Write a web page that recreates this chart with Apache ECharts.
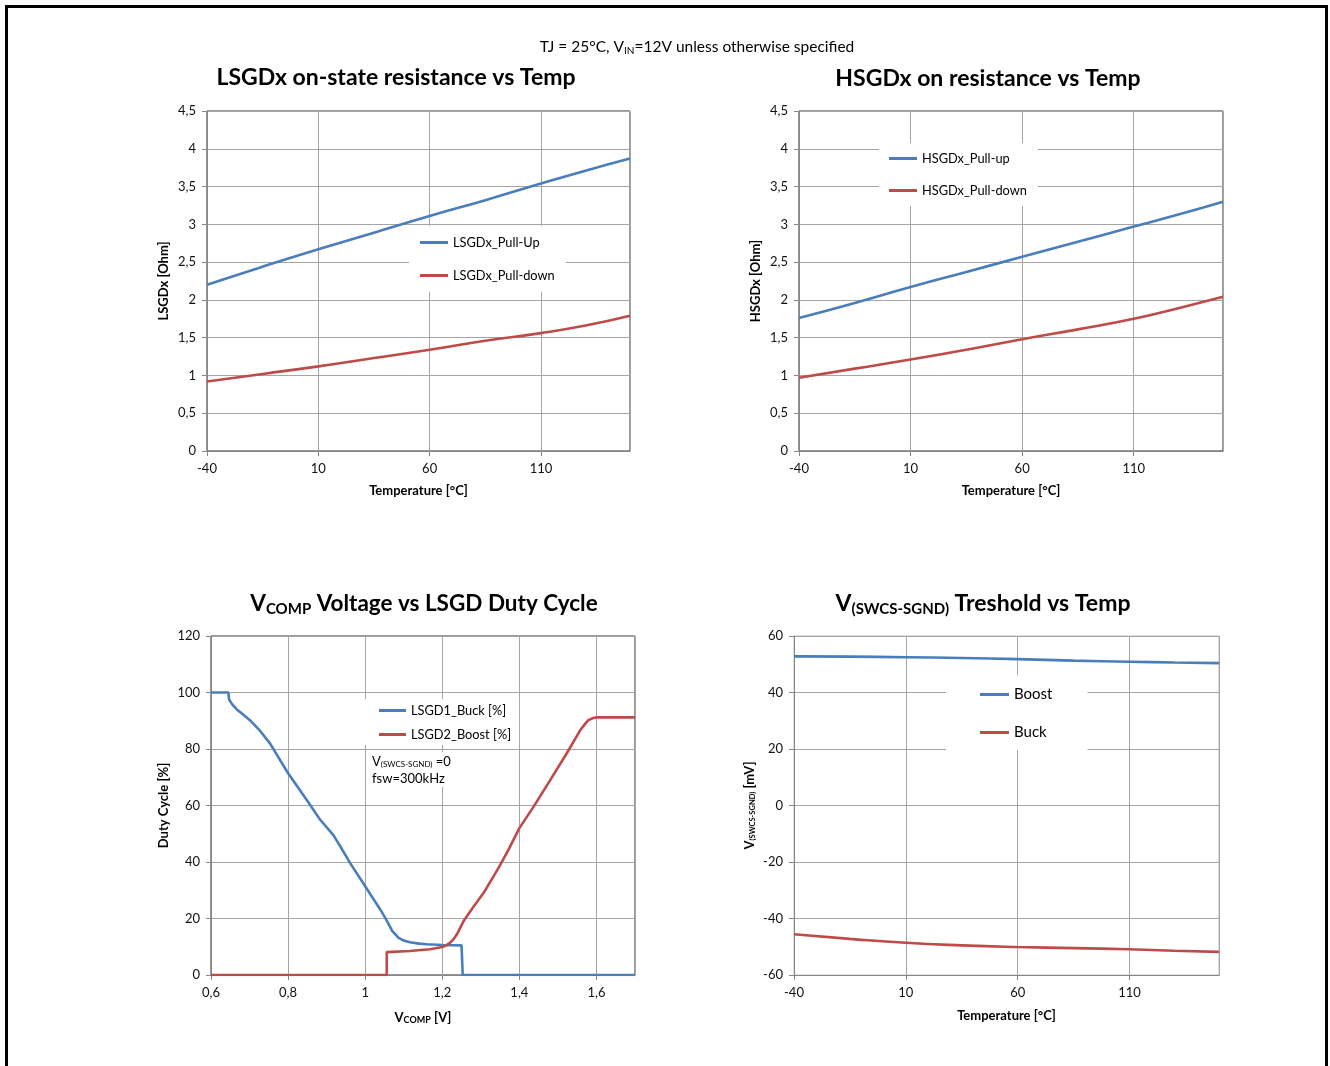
<!DOCTYPE html>
<html><head><meta charset="utf-8">
<script src="https://cdn.jsdelivr.net/npm/echarts@6/dist/echarts.min.js"></script>
<style>
html,body{margin:0;padding:0;background:#fff;overflow:hidden;}
#frame{position:absolute;left:5px;top:5px;width:1317px;height:1100px;border:3px solid #000;border-bottom:none;}
#main{position:absolute;left:0;top:0;width:1330px;height:1066px;}
</style></head><body>
<div id="frame"></div><div id="main"></div>
<script>
// ---- data ----
const tempX = [-40, -15, 10, 35, 60, 85, 110, 130, 150];
const lsgdPullUp = [2.2, 2.44, 2.67, 2.89, 3.11, 3.32, 3.54, 3.71, 3.87];
const lsgdPullDown = [0.92, 1.02, 1.12, 1.23, 1.34, 1.46, 1.56, 1.66, 1.79];
const hsgdPullUp = [1.76, 1.96, 2.17, 2.37, 2.57, 2.77, 2.97, 3.13, 3.30];
const hsgdPullDown = [0.97, 1.09, 1.21, 1.34, 1.48, 1.61, 1.75, 1.89, 2.04];

const buckV = [0.6, 0.645, 0.647, 0.655, 0.667, 0.685, 0.701, 0.725, 0.753, 0.8, 0.848, 0.883, 0.9, 0.917, 0.94, 0.961, 1.0, 1.039, 1.055, 1.07, 1.086, 1.1, 1.116, 1.14, 1.16, 1.2, 1.25, 1.253, 1.253, 1.7];
const buckD = [100, 100, 97.5, 95.8, 94, 92, 90.2, 86.8, 82, 71.4, 62, 55, 52.3, 49.6, 44.5, 39.6, 31.4, 23.2, 19.5, 15.6, 13.2, 12.2, 11.6, 11.1, 10.9, 10.6, 10.5, 10.5, 0, 0];
const boostV = [0.6, 1.056, 1.056, 1.116, 1.168, 1.2, 1.21, 1.22, 1.23, 1.238, 1.255, 1.28, 1.307, 1.346, 1.372, 1.4, 1.437, 1.48, 1.523, 1.558, 1.57, 1.579, 1.59, 1.6, 1.7];
const boostD = [0, 0, 8.1, 8.5, 9.1, 9.9, 10.5, 11.4, 12.8, 14.4, 19, 24, 29, 37.9, 44.4, 52, 59.6, 69, 78.5, 86.7, 88.8, 90.2, 90.9, 91.2, 91.2];

const thrTemp = [-40, -15, 10, 35, 60, 85, 110, 130, 150];
const boostThr = [52.8, 52.7, 52.5, 52.2, 51.8, 51.3, 50.9, 50.6, 50.4];
const buckThr = [-45.6, -47.2, -48.6, -49.5, -50.1, -50.5, -50.9, -51.4, -51.8];

// ---- styles ----
const F = 'Lato, "Open Sans", sans-serif';
const BLUE = '#4a7ebb', RED = '#be4b48';
const AX = '#868686', GRIDC = '#a5a5a5';
const fmt = v => String(Math.round(v * 1000) / 1000).replace('.', ',');
const zip = (a, b) => a.map((x, i) => [x, b[i]]);

function xAxisCfg(gi, min, max, interval, name, gap, extra) {
  return Object.assign({
    type: 'value', gridIndex: gi, min, max, interval,
    name, nameLocation: 'middle', nameGap: gap,
    nameTextStyle: { fontFamily: F, fontWeight: 'bold', fontSize: 13, color: '#000' },
    axisLine: { show: true, onZero: false, lineStyle: { color: AX } },
    axisTick: { show: true, length: 5, lineStyle: { color: AX } },
    axisLabel: { margin: 11, fontFamily: F, fontSize: 13, color: '#111', showMaxLabel: false, formatter: fmt },
    splitLine: { show: true, lineStyle: { color: GRIDC } }
  }, extra || {});
}
function yAxisCfg(gi, min, max, interval, name, gap, extra) {
  return Object.assign({
    type: 'value', gridIndex: gi, min, max, interval,
    name, nameLocation: 'middle', nameGap: gap, nameRotate: 90,
    nameTextStyle: { fontFamily: F, fontWeight: 'bold', fontSize: 13, color: '#000' },
    axisLine: { show: true, onZero: false, lineStyle: { color: AX } },
    axisTick: { show: true, length: 5, lineStyle: { color: AX } },
    axisLabel: { margin: 11, fontFamily: F, fontSize: 13, color: '#111', formatter: fmt },
    splitLine: { show: true, lineStyle: { color: GRIDC } }
  }, extra || {});
}
function line(name, data, color, gi, smooth) {
  return {
    type: 'line', name, data, xAxisIndex: gi, yAxisIndex: gi,
    showSymbol: false, symbol: 'none', smooth: smooth,
    lineStyle: { color, width: 2.6 }, itemStyle: { color },
    emphasis: { disabled: true }, animation: false
  };
}
function legendCfg(names, left, top, fs, pad, gap, itemW) {
  return {
    data: names, left, top, orient: 'vertical', icon: 'rect',
    itemWidth: itemW, itemHeight: 3, itemGap: gap, padding: pad,
    backgroundColor: '#fff', selectedMode: false,
    textStyle: { fontFamily: F, fontSize: fs, color: '#000' }
  };
}

const chart = echarts.init(document.getElementById('main'), null, { renderer: 'canvas' });
chart.setOption({
  animation: false,
  grid: [
    { left: 207, top: 111, width: 423, height: 340, show: true, borderColor: '#303030', borderWidth: 1 },
    { left: 799, top: 111, width: 424, height: 340, show: true, borderColor: '#303030', borderWidth: 1 },
    { left: 211, top: 636, width: 424, height: 339, show: true, borderColor: '#303030', borderWidth: 1 },
    { left: 794, top: 636, width: 425, height: 339, show: true, borderColor: '#bdbdbd', borderWidth: 1 }
  ],
  xAxis: [
    xAxisCfg(0, -40, 150, 50, 'Temperature [°C]', 33),
    xAxisCfg(1, -40, 150, 50, 'Temperature [°C]', 33),
    xAxisCfg(2, 0.6, 1.7, 0.2, '{a|V}{b|COMP}{a| [V]}', 35, {
      nameTextStyle: { rich: {
        a: { fontFamily: F, fontWeight: 'bold', fontSize: 13, color: '#000' },
        b: { fontFamily: F, fontWeight: 'bold', fontSize: 9, color: '#000', padding: [6, 0, 0, 0] }
      } }
    }),
    xAxisCfg(3, -40, 150, 50, 'Temperature [°C]', 34)
  ],
  yAxis: [
    yAxisCfg(0, 0, 4.5, 0.5, 'LSGDx [Ohm]', 37),
    yAxisCfg(1, 0, 4.5, 0.5, 'HSGDx [Ohm]', 37),
    yAxisCfg(2, 0, 120, 20, 'Duty Cycle [%]', 41),
    yAxisCfg(3, -60, 60, 20, '{a|V}{b|(SWCS-SGND)}{a| [mV]}', 37, {
      nameTextStyle: { rich: {
        a: { fontFamily: F, fontWeight: 'bold', fontSize: 13, color: '#000' },
        b: { fontFamily: F, fontWeight: 'bold', fontSize: 7.5, color: '#000', padding: [6, 0, 0, 0] }
      } }
    })
  ],
  legend: [
    legendCfg(['LSGDx_Pull-Up', 'LSGDx_Pull-down'], 409, 226, 12.8, [10, 11, 10, 11], 20, 28),
    legendCfg(['HSGDx_Pull-up', 'HSGDx_Pull-down'], 879, 143, 12.8, [9, 11, 9, 10], 19, 28),
    legendCfg(['LSGD1_Buck [%]', 'LSGD2_Boost [%]'], 363, 699, 12.8, [5, 8, 4, 16], 11, 27),
    legendCfg(['Boost', 'Buck'], 946, 675, 15, [12, 35, 10, 34], 23, 29)
  ],
  series: [
    line('LSGDx_Pull-Up', zip(tempX, lsgdPullUp), BLUE, 0, true),
    line('LSGDx_Pull-down', zip(tempX, lsgdPullDown), RED, 0, true),
    line('HSGDx_Pull-up', zip(tempX, hsgdPullUp), BLUE, 1, true),
    line('HSGDx_Pull-down', zip(tempX, hsgdPullDown), RED, 1, true),
    line('LSGD1_Buck [%]', zip(buckV, buckD), BLUE, 2, false),
    line('LSGD2_Boost [%]', zip(boostV, boostD), RED, 2, false),
    line('Boost', zip(thrTemp, boostThr), BLUE, 3, true),
    line('Buck', zip(thrTemp, buckThr), RED, 3, true)
  ],
  graphic: [
    { type: 'text', x: 697, y: 47, style: {
      text: '{a|TJ = 25°C, V}{b|IN}{a|=12V unless otherwise specified}', align: 'center', verticalAlign: 'middle',
      rich: { a: { fontFamily: F, fontSize: 15.5, fill: '#000' }, b: { fontFamily: F, fontSize: 10, fill: '#000', padding: [7, 0, 0, 0] } } } },
    { type: 'text', x: 396, y: 78, style: {
      text: 'LSGDx on-state resistance vs Temp', align: 'center', verticalAlign: 'middle',
      fontFamily: F, fontSize: 23, fontWeight: 'bold', fill: '#000' } },
    { type: 'text', x: 988, y: 79, style: {
      text: 'HSGDx on resistance vs Temp', align: 'center', verticalAlign: 'middle',
      fontFamily: F, fontSize: 23, fontWeight: 'bold', fill: '#000' } },
    { type: 'text', x: 424, y: 604, style: {
      text: '{a|V}{b|COMP}{a| Voltage vs LSGD Duty Cycle}', align: 'center', verticalAlign: 'middle',
      rich: { a: { fontFamily: F, fontSize: 22.5, fontWeight: 'bold', fill: '#000' },
              b: { fontFamily: F, fontSize: 15, fontWeight: 'bold', fill: '#000', padding: [10, 0, 0, 0] } } } },
    { type: 'text', x: 983, y: 604, style: {
      text: '{a|V}{b|(SWCS-SGND)}{a| Treshold vs Temp}', align: 'center', verticalAlign: 'middle',
      rich: { a: { fontFamily: F, fontSize: 23, fontWeight: 'bold', fill: '#000' },
              b: { fontFamily: F, fontSize: 15, fontWeight: 'bold', fill: '#000', padding: [10, 0, 0, 0] } } } },
    { type: 'text', x: 370, y: 752, z: 100, style: {
      text: '{a|V}{b|(SWCS-SGND)}{a| =0}\n{a|fsw=300kHz}', align: 'left', verticalAlign: 'top',
      backgroundColor: '#fff', padding: [1, 2, 0, 2],
      rich: { a: { fontFamily: F, fontSize: 13, fill: '#000', lineHeight: 17 },
              b: { fontFamily: F, fontSize: 8, fill: '#000', padding: [5, 0, 0, 0] } } } }
  ]
});
</script></body></html>
